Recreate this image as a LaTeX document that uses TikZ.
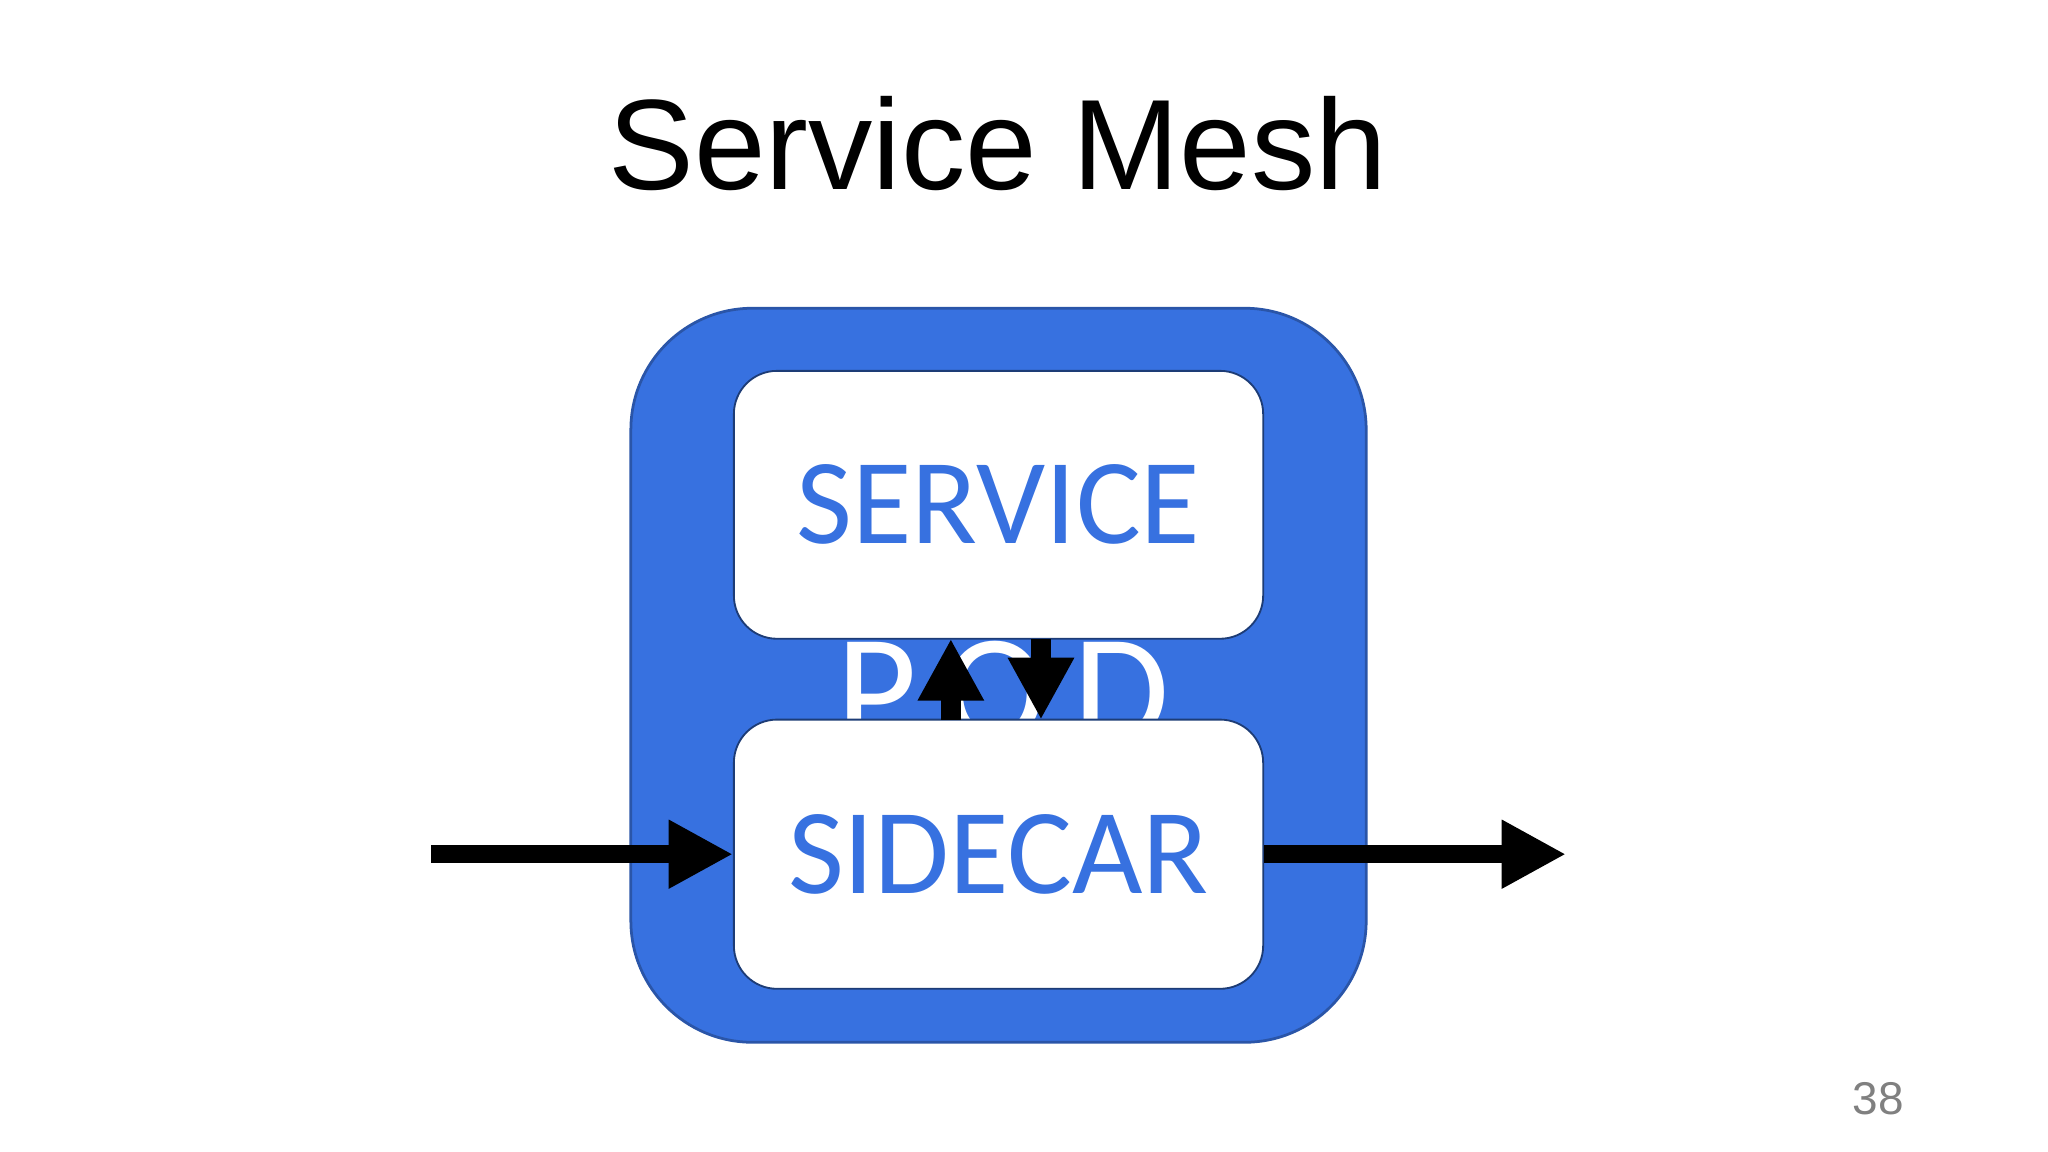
\documentclass[tikz,border=0pt]{standalone}
\usepackage{fontspec}
\setmainfont{Liberation Sans}
\newfontfamily\calfont{Carlito}
\usetikzlibrary{arrows.meta}
\definecolor{meshblue}{HTML}{3771E0}
\definecolor{edgeblue}{HTML}{2A55A8}
\tikzset{
  inner/.style={draw=edgeblue!70!black, line width=0.4pt, fill=white, rounded corners=0.33cm},
  big/.style={line width=4pt, -{Triangle[length=14pt,width=14pt]}},
  small/.style={line width=4.5pt, -{Triangle[length=13.5pt,width=13.5pt]}},
  lbl/.style={font=\calfont\fontsize{26.5}{30}\selectfont, text=meshblue}
}
\begin{document}
\begin{tikzpicture}[x=0.01cm,y=-0.01cm]
\useasboundingbox (0,0) rectangle (1568,882);
\node (title) at (764,110) {\fontsize{28}{32}\selectfont Service Mesh};
\draw[draw=edgeblue, fill=meshblue, line width=0.6pt, rounded corners=0.93cm] (483,236) rectangle (1046,798);
\node (pod) at (768,530) {\calfont\fontsize{34}{38}\selectfont\color{white}P\,O\,D};
\node[inner, minimum width=4.05cm, minimum height=2.05cm] (svc) at (764.5,386.5) {};
\node[lbl] at (svc) {SERVICE};
\node[inner, minimum width=4.05cm, minimum height=2.06cm] (car) at (764.5,654) {};
\node[lbl] at (car) {SIDECAR};
\coordinate (in) at (330,654);
\coordinate (out) at (1199,654);
\draw[big] (in) -- (car.west);
\draw[big] (car.east) -- (out);
\draw[small] (728,551) -- (728,489);
\draw[small] (797,489) -- (797,551);
\node[text=gray] (pg) at (1438,841) {\fontsize{10}{12}\selectfont 38};
\end{tikzpicture}
\end{document}
